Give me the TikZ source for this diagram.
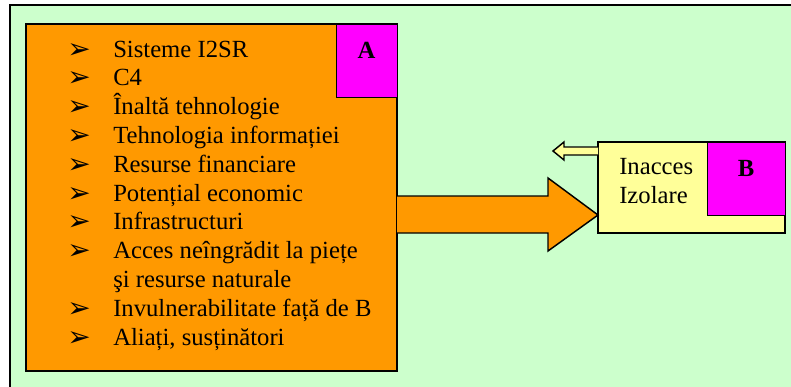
\documentclass[tikz,border=0pt]{standalone}
\usepackage{fontspec}
\setmainfont{Liberation Serif}
\newfontfamily\bulletfont{DejaVu Sans}
\definecolor{bggreen}{HTML}{CCFFCC}
\definecolor{aorange}{HTML}{FF9900}
\definecolor{magent}{HTML}{FF00FF}
\definecolor{byellow}{HTML}{FFFF99}
\begin{document}
\begin{tikzpicture}[x=0.75pt,y=-0.75pt,
  boxline/.style={draw=black,line width=1.1pt},
  item/.style={anchor=base west,inner sep=0pt,font=\fontsize{18.5}{21}\selectfont},
  bul/.style={anchor=base west,inner sep=0pt,font=\bulletfont\fontsize{21}{24}\selectfont},
  lbl/.style={anchor=center,inner sep=0pt,font=\fontsize{18.5}{21}\selectfont\bfseries}]
\useasboundingbox (0,0) rectangle (791,386);
\clip (0,0) rectangle (791,386);
% outer background
\path[fill=bggreen,draw=black,line width=1.6pt] (10,5) rectangle (820,420);
% box A
\path[boxline,fill=aorange] (26,24) rectangle (397,371);
\node[boxline,fill=magent,minimum width=61*0.75pt,minimum height=73*0.75pt,inner sep=0pt,anchor=north west] (magA) at (336,24) {};
\node[lbl] (labA) at (366.5,50) {A};
% items
\foreach \i/\t in {0/{Sisteme I2SR},1/{C4},2/{Înaltă tehnologie},3/{Tehnologia informației},4/{Resurse financiare},5/{Potențial economic},6/{Infrastructuri},7/{Acces neîngrădit la piețe},9/{Invulnerabilitate față de B},10/{Aliați, susținători}}{
  \node[bul] (b\i) at (67,{58+28.8*\i}) {➢};
  \node[item] (t\i) at (113,{57+28.8*\i}) {\t};
}
\node[item] (t8) at (113,{57+28.8*8}) {şi resurse naturale};
% box B
\path[boxline,fill=byellow] (598,142) rectangle (785,233);
\node[boxline,fill=magent,minimum width=78*0.75pt,minimum height=73*0.75pt,inner sep=0pt,anchor=north west] (magB) at (707,142) {};
\node[lbl] (labB) at (746,168) {B};
\node[item] (in1) at (619,174) {Inacces};
\node[item] (in2) at (619,203) {Izolare};
% big arrow A -> B
\path[fill=aorange] (397,196) -- (548,196) -- (548,178) -- (598,215) -- (548,251) -- (548,233) -- (397,233) -- cycle;
\draw[line width=1.1pt,line join=miter] (397,196) -- (548,196) -- (548,178) -- (598,215) -- (548,251) -- (548,233) -- (397,233);
% small arrow from B
\path[draw=black,line width=1.1pt,fill=byellow] (598,147) -- (564,147) -- (564,142) -- (553,151) -- (564,160) -- (564,155) -- (598,155);
\end{tikzpicture}
\end{document}
